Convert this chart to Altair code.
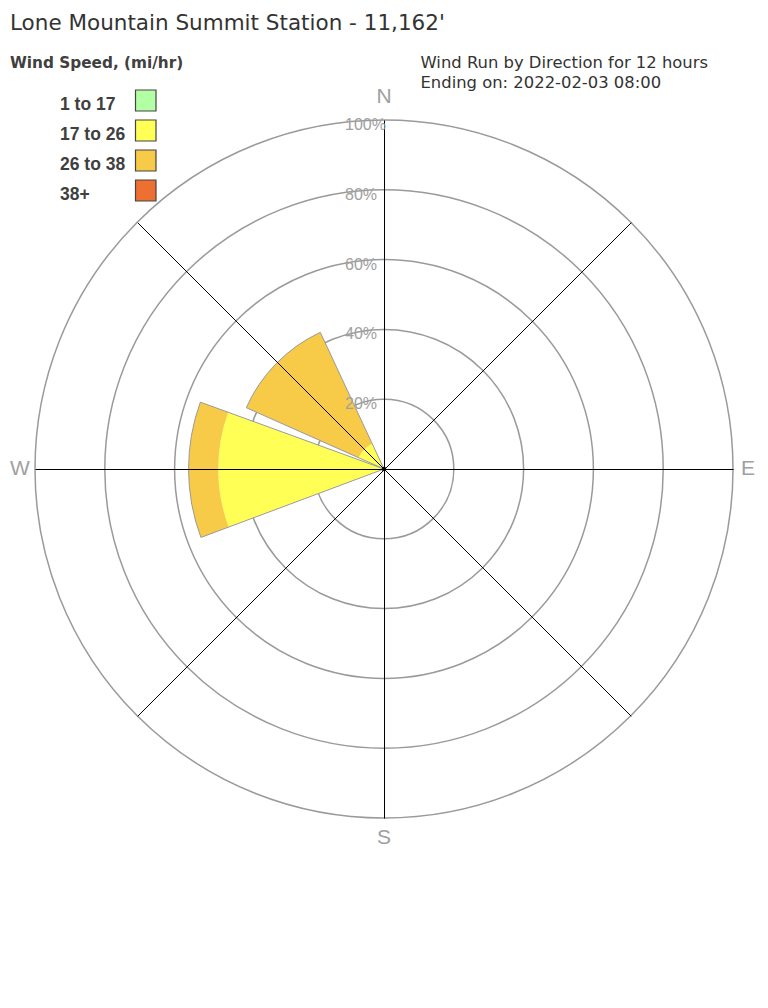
import math
import altair as alt
import pandas as pd

# ---- data ----
title_text = "Lone Mountain Summit Station - 11,162'"
subtitle_lines = ["Wind Run by Direction for 12 hours", "Ending on: 2022-02-03 08:00"]
legend_title = "Wind Speed, (mi/hr)"
speed_bins = ["1 to 17", "17 to 26", "26 to 38", "38+"]
speed_colors = ["#B3FFA3", "#FFFF55", "#F7CB47", "#EE7030"]

# wedges: direction sector start/end (degrees), cumulative % per speed bin
wedge_dir = ["W", "NW"]
wedge_start = [249.5, 294.0]
wedge_end = [290.0, 335.0]
# cumulative percent at end of each speed bin (1-17, 17-26, 26-38, 38+)
wedge_cum = [
    [0.0, 47.5, 56.0, 56.0],
    [0.0, 8.0, 43.2, 43.2],
]

ring_values = [20, 40, 60, 80, 100]
ring_labels = ["20%", "40%", "60%", "80%", "100%"]
compass_labels = ["N", "E", "S", "W"]
compass_angles = [0, 90, 180, 270]
compass_radius = [106.6, 104.3, 105.8, 104.3]
spoke_angles = [0, 45, 90, 135, 180, 225, 270, 315]

# ---- geometry ----
W, H = 752, 922
R = 349
cx, cy = W / 2, H / 2

rscale = alt.Scale(type="linear", domain=[0, 100], range=[0, R], zero=True)
tscale = alt.Scale(type="linear", domain=[0, 360], range=[0, 2 * math.pi], zero=True)
cscale = alt.Scale(domain=speed_bins, range=speed_colors)
FONT = "Liberation Sans"
WIDE = "DejaVu Sans"

rows = []
for d, s, e, cum in zip(wedge_dir, wedge_start, wedge_end, wedge_cum):
    prev = 0.0
    for b, c in zip(speed_bins, cum):
        if c > prev:
            rows.append(dict(dir=d, t0=s, t1=e, r0=prev, r1=c, bin=b))
        prev = max(prev, c)
wedges = pd.DataFrame(rows)
outline = pd.DataFrame(dict(dir=wedge_dir, t0=wedge_start, t1=wedge_end,
                            r=[max(c) for c in wedge_cum]))

rings = pd.DataFrame(dict(r=ring_values, label=ring_labels))

spokes = pd.DataFrame(dict(a=spoke_angles))
spokes["x"] = cx + 0.5
spokes["y"] = cy + 0.5
spokes["x2"] = [cx + 0.5 + R * math.sin(math.radians(a)) for a in spoke_angles]
spokes["y2"] = [cy + 0.5 - R * math.cos(math.radians(a)) for a in spoke_angles]

compass = pd.DataFrame(dict(label=compass_labels, t=compass_angles, r=compass_radius))

leg = pd.DataFrame(dict(label=speed_bins, i=range(len(speed_bins))))
leg["ty"] = 102 + 30 * leg["i"]
leg["sy"] = 82 + 30 * leg["i"]
leg["sy2"] = leg["sy"] + 21

ring_layer = alt.Chart(rings).mark_arc(
    theta=0, theta2=2 * math.pi, fillOpacity=0, stroke="#9a9a9a", strokeWidth=1.5
).encode(radius=alt.Radius("r:Q", scale=rscale, stack=None))

wedge_layer = alt.Chart(wedges).mark_arc(strokeWidth=0).encode(
    theta=alt.Theta("t0:Q", scale=tscale, stack=None),
    theta2="t1:Q",
    radius=alt.Radius("r1:Q", scale=rscale, stack=None),
    radius2="r0:Q",
    color=alt.Color("bin:N", scale=cscale, legend=None),
)

outline_layer = alt.Chart(outline).mark_arc(
    fillOpacity=0, stroke="#9a9a9a", strokeWidth=1
).encode(
    theta=alt.Theta("t0:Q", scale=tscale, stack=None),
    theta2="t1:Q",
    radius=alt.Radius("r:Q", scale=rscale, stack=None),
)

spoke_layer = alt.Chart(spokes).mark_rule(color="black", strokeWidth=1).encode(
    x=alt.X("x:Q", scale=None), y=alt.Y("y:Q", scale=None),
    x2="x2:Q", y2="y2:Q",
)

ring_text = alt.Chart(rings).mark_text(
    align="left", baseline="alphabetic", dx=-39, dy=10, fontSize=16,
    font=FONT, color="#a0a0a0"
).encode(
    theta=alt.value(0),
    radius=alt.Radius("r:Q", scale=rscale, stack=None),
    text="label:N",
)

compass_text = alt.Chart(compass).mark_text(
    align="center", baseline="middle", fontSize=21, font=FONT, color="#a0a0a0"
).encode(
    theta=alt.Theta("t:Q", scale=tscale, stack=None),
    radius=alt.Radius("r:Q", scale=rscale, stack=None),
    text="label:N",
)

center_dot = alt.Chart(pd.DataFrame(dict(v=[0]))).mark_arc(
    theta=0, theta2=2 * math.pi, radius=2.2, color="black"
).encode(color=alt.value("black"))

title_df = pd.DataFrame(dict(text=[title_text], x=[2], y=[21.5]))
title_layer = alt.Chart(title_df).mark_text(
    align="left", baseline="alphabetic", fontSize=21.5, font=WIDE, color="#333333"
).encode(x=alt.X("x:Q", scale=None), y=alt.Y("y:Q", scale=None), text="text:N")

lt_df = pd.DataFrame(dict(text=[legend_title], x=[2], y=[60.3]))
lt_layer = alt.Chart(lt_df).mark_text(
    align="left", baseline="alphabetic", fontSize=15.3, fontWeight="bold",
    font=WIDE, color="#404040"
).encode(x=alt.X("x:Q", scale=None), y=alt.Y("y:Q", scale=None), text="text:N")

sub_df = pd.DataFrame(dict(text=subtitle_lines, x=[412.5, 412.5], y=[60.3, 79.6]))
sub_layer = alt.Chart(sub_df).mark_text(
    align="left", baseline="alphabetic", fontSize=16.4, font=WIDE, color="#333333"
).encode(x=alt.X("x:Q", scale=None), y=alt.Y("y:Q", scale=None), text="text:N")

leg_text = alt.Chart(leg).mark_text(
    align="left", baseline="alphabetic", fontSize=17.5, fontWeight="bold",
    font=FONT, color="#404040"
).encode(x=alt.value(52), y=alt.Y("ty:Q", scale=None), text="label:N")

leg_sw = alt.Chart(leg).mark_rect(stroke="#444444", strokeWidth=1.2).encode(
    x=alt.value(127.5), x2=alt.value(148),
    y=alt.Y("sy:Q", scale=None), y2="sy2:Q",
    fill=alt.Fill("label:N", scale=cscale, legend=None),
)

chart = alt.layer(
    ring_layer, wedge_layer, outline_layer, spoke_layer, center_dot,
    ring_text, compass_text, title_layer, lt_layer, sub_layer, leg_text, leg_sw,
).properties(
    width=W, height=H, padding=0, autosize=alt.AutoSizeParams(type="none"),
    background="white",
).configure_view(stroke=None)

chart.save("out.html", embed_options={"renderer": "svg", "actions": False})
